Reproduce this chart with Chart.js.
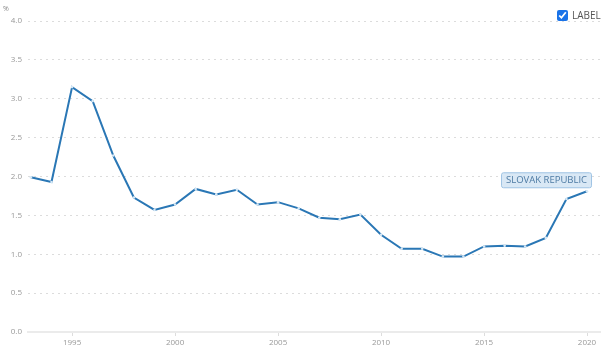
<!DOCTYPE html>
<html>
<head>
<meta charset="utf-8">
<script src="https://cdn.jsdelivr.net/npm/chart.js@4"></script>
<style>
    html, body { margin: 0; padding: 0; background: #fff; }
    #wrap { position: relative; width: 605px; height: 362px; }
    #legend {
        position: absolute; left: 557px; top: 8px;
        font: 10px "Open Sans", sans-serif; color: #555;
        display: flex; align-items: center;
    }
    #legend input { margin: 0 4px 0 0; width: 11px; height: 11px; accent-color: #1a73e8; }
</style>
</head>
<body>
<div id="wrap">
    <canvas id="chart" width="605" height="362"></canvas>
    <div id="legend"><input type="checkbox" checked><span>LABEL</span></div>
</div>
<script>
const years = [1993, 1994, 1995, 1996, 1997, 1998, 1999, 2000, 2001, 2002,
    2003, 2004, 2005, 2006, 2007, 2008, 2009, 2010, 2011, 2012,
    2013, 2014, 2015, 2016, 2017, 2018, 2019, 2020];
const values = [1.99, 1.93, 3.15, 2.97, 2.27, 1.73, 1.57, 1.64, 1.84, 1.77,
    1.83, 1.64, 1.67, 1.59, 1.47, 1.45, 1.51, 1.25, 1.07, 1.07,
    0.97, 0.97, 1.10, 1.11, 1.10, 1.21, 1.71, 1.81];
const xTicks = [1995, 2000, 2005, 2010, 2015, 2020];
const seriesName = 'SLOVAK REPUBLIC';

const lineColor = '#2a77b5';

const endLabel = {
    id: 'endLabel',
    afterDatasetsDraw(chart) {
        const pts = chart.getDatasetMeta(0).data;
        const last = pts[pts.length - 1];
        const ctx = chart.ctx;
        const w = 90, h = 15;
        const x = last.x + 4 - w, y = last.y - 4 - h;
        ctx.save();
        ctx.fillStyle = '#d9e8f5';
        ctx.strokeStyle = '#9fc4e4';
        ctx.lineWidth = 1;
        ctx.beginPath();
        ctx.roundRect(x + 0.5, y + 0.5, w, h, 2);
        ctx.fill();
        ctx.stroke();
        ctx.fillStyle = '#4d7aa3';
        ctx.font = '9.5px "Open Sans", sans-serif';
        ctx.textAlign = 'center';
        ctx.textBaseline = 'middle';
        ctx.fillText(seriesName, x + w / 2 + 0.5, y + h / 2 + 1);
        ctx.restore();
    }
};

const unitLabel = {
    id: 'unitLabel',
    afterDraw(chart) {
        const ctx = chart.ctx;
        ctx.save();
        ctx.fillStyle = '#888';
        ctx.font = '7px "Open Sans", sans-serif';
        ctx.textBaseline = 'middle';
        ctx.fillText('%', 3, 9);
        ctx.restore();
    }
};

new Chart(document.getElementById('chart'), {
    type: 'line',
    data: {
        datasets: [{
            label: seriesName,
            data: years.map((yr, i) => ({ x: yr, y: values[i] })),
            borderColor: lineColor,
            borderWidth: 2,
            pointRadius: 1.3,
            pointBorderWidth: 0,
            pointBackgroundColor: '#d6e8f6',
            tension: 0,
            fill: false
        }]
    },
    options: {
        responsive: false,
        animation: false,
        layout: { padding: { top: 21, right: 5, left: 0, bottom: 0 } },
        plugins: { legend: { display: false }, tooltip: { enabled: false } },
        scales: {
            x: {
                type: 'linear',
                min: 1992.86,
                max: 2020.63,
                afterBuildTicks: (s) => { s.ticks = xTicks.map(v => ({ value: v })); },
                afterFit: (s) => { s.height = 30; },
                grid: { drawOnChartArea: false, drawTicks: true, tickLength: 4, color: '#dddddd' },
                border: { display: true, color: '#ebebeb', width: 2 },
                ticks: {
                    color: '#999',
                    font: { family: 'Open Sans', size: 8 },
                    padding: 2,
                    maxRotation: 0,
                    callback: (v) => String(v)
                }
            },
            y: {
                min: 0,
                max: 4,
                afterFit: (s) => { s.width = 28; },
                grid: { color: '#dcdcdc', lineWidth: 1, drawTicks: false },
                border: { display: false, dash: [2, 4] },
                ticks: {
                    stepSize: 0.5,
                    color: '#999',
                    font: { family: 'Open Sans', size: 8 },
                    padding: 6,
                    callback: (v) => v.toFixed(1)
                }
            }
        }
    },
    plugins: [endLabel, unitLabel]
});
</script>
</body>
</html>
